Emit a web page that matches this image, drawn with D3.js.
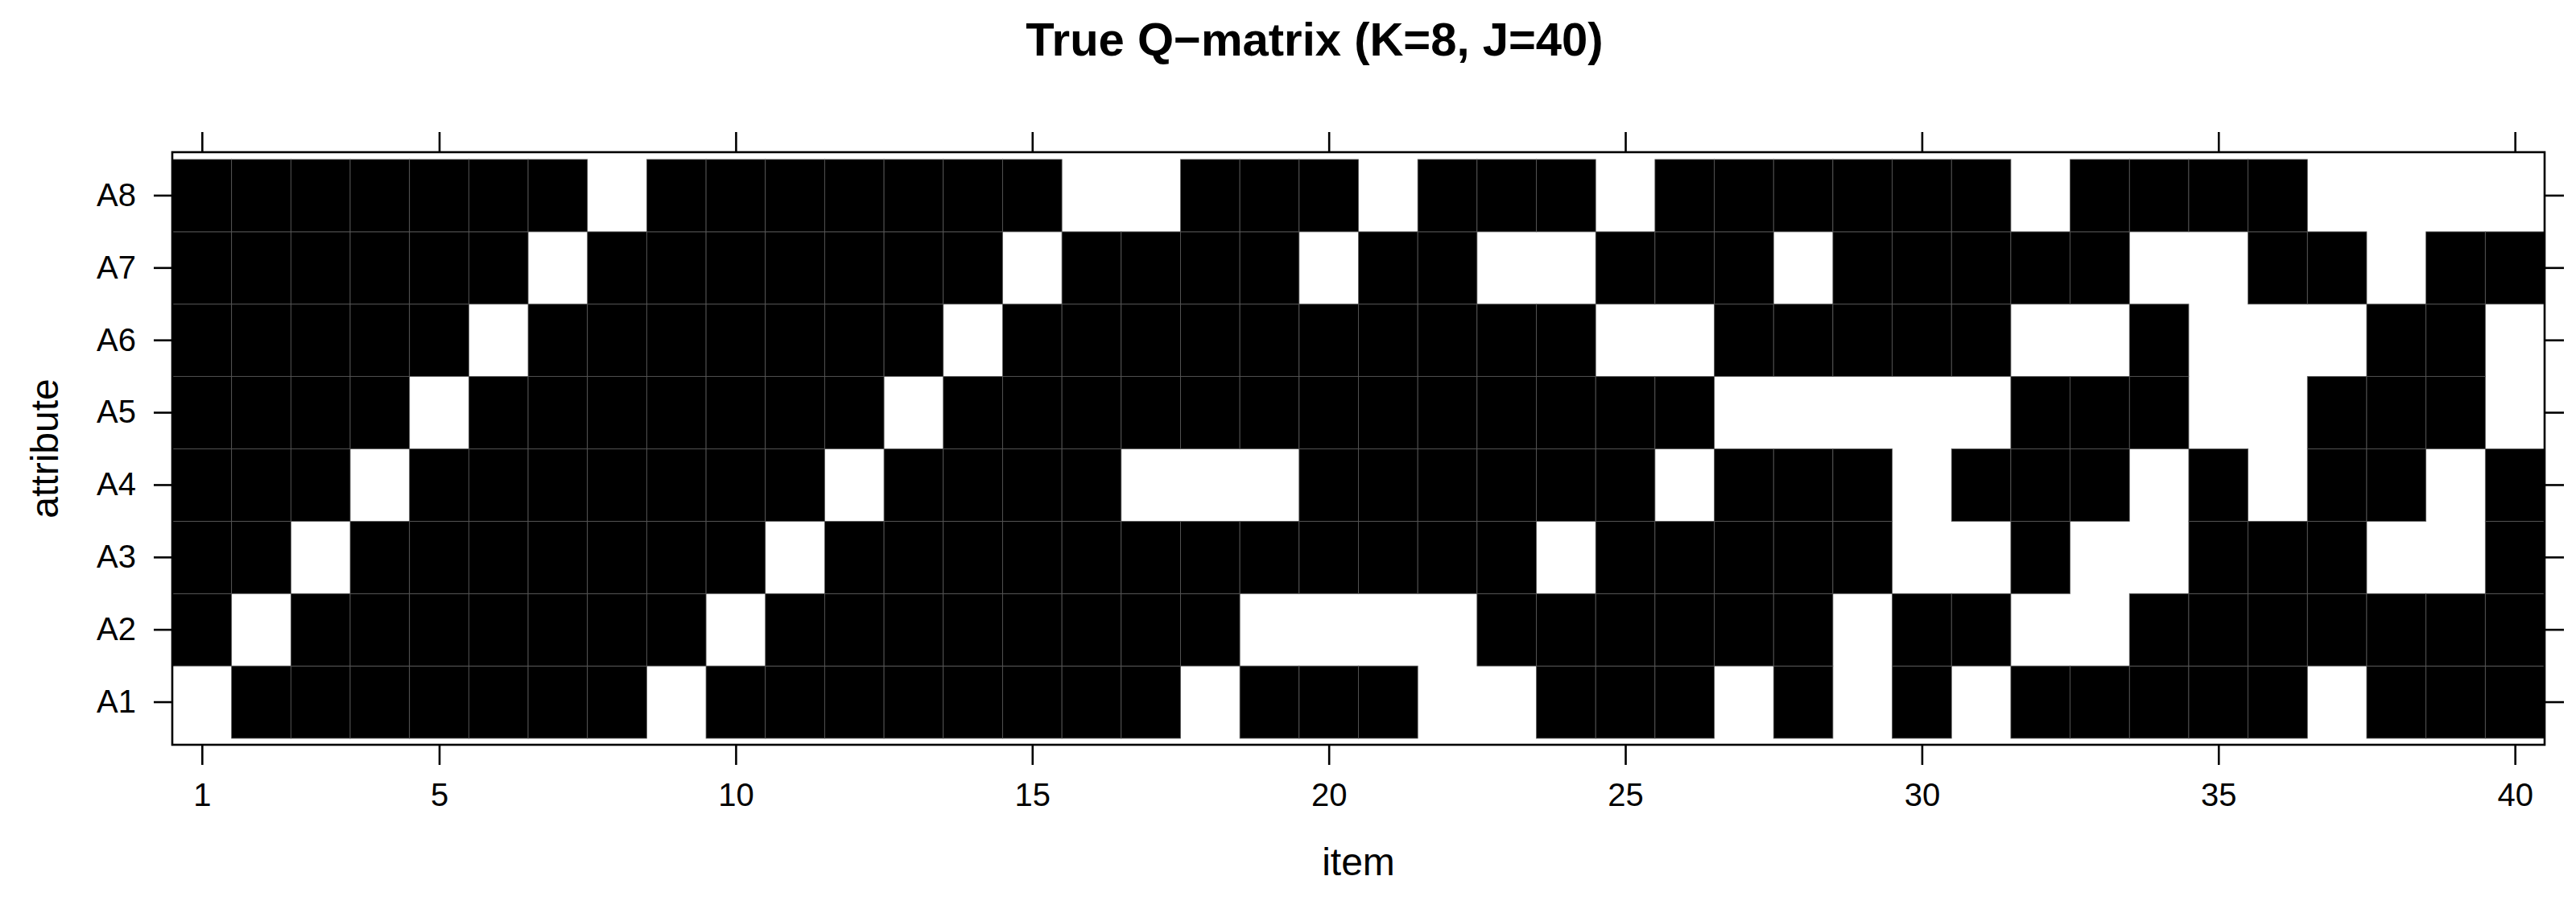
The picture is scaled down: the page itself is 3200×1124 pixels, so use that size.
<!DOCTYPE html>
<html><head><meta charset="utf-8">
<script src="https://cdn.jsdelivr.net/npm/d3@7"></script>
<style>
body{margin:0;background:#fff}
svg{display:block}
text{font-family:"Liberation Sans",Arial,Helvetica,sans-serif}
</style>
</head><body><svg id="c" width="3200" height="1124"></svg>
<script>
// ---- data ----
const items = d3.range(1, 41);
const attributes = ["A1","A2","A3","A4","A5","A6","A7","A8"];
const xTickValues = [1,5,10,15,20,25,30,35,40];
const chartTitle = "True Q\u2212matrix (K=8, J=40)";
const xLabel = "item";
const yLabel = "attribute";
// Q-matrix entries per attribute (1 = attribute required, drawn white)
const qA1 = [1,0,0,0,0,0,0,0, 1,0,0,0,0,0,0,0, 0,1,0,0,0,1,1,0, 0,0,1,0,1,0,1,0, 0,0,0,0,1,0,0,0];
const qA2 = [0,1,0,0,0,0,0,0, 0,1,0,0,0,0,0,0, 0,0,1,1,1,1,0,0, 0,0,0,0,1,0,0,1, 1,0,0,0,0,0,0,0];
const qA3 = [0,0,1,0,0,0,0,0, 0,0,1,0,0,0,0,0, 0,0,0,0,0,0,0,1, 0,0,0,0,0,1,1,0, 1,1,0,0,0,1,1,0];
const qA4 = [0,0,0,1,0,0,0,0, 0,0,0,1,0,0,0,0, 1,1,1,0,0,0,0,0, 0,1,0,0,0,1,0,0, 0,1,0,1,0,0,1,0];
const qA5 = [0,0,0,0,1,0,0,0, 0,0,0,0,1,0,0,0, 0,0,0,0,0,0,0,0, 0,0,1,1,1,1,1,0, 0,0,1,1,0,0,0,1];
const qA6 = [0,0,0,0,0,1,0,0, 0,0,0,0,0,1,0,0, 0,0,0,0,0,0,0,0, 1,1,0,0,0,0,0,1, 1,0,1,1,1,0,0,1];
const qA7 = [0,0,0,0,0,0,1,0, 0,0,0,0,0,0,1,0, 0,0,0,1,0,0,1,1, 0,0,0,1,0,0,0,0, 0,1,1,0,0,1,0,0];
const qA8 = [0,0,0,0,0,0,0,1, 0,0,0,0,0,0,0,1, 1,0,0,0,1,0,0,0, 1,0,0,0,0,0,0,1, 0,0,0,0,1,1,1,1];
const qRows = [qA1,qA2,qA3,qA4,qA5,qA6,qA7,qA8];

const cells = [];
attributes.forEach((a, i) => items.forEach((it, j) => cells.push({attr: a, item: it, v: qRows[i][j]})));

// ---- layout ----
const svg = d3.select("#c");
const frame = {left: 214, right: 3161, top: 189, bottom: 925};
const cellTop = 198, cellBottom = 917;

const x = d3.scaleLinear().domain([0.5, 40.5]).range([frame.left, frame.right]);
const y = d3.scaleBand().domain(attributes).range([cellBottom, cellTop]);
const color = d3.scaleOrdinal().domain([0, 1]).range(["#000000", "#ffffff"]);

// cells: white cells first, then black cells with faint seams
const sorted = cells.slice().sort((a, b) => b.v - a.v);
svg.append("g").selectAll("rect").data(sorted).join("rect")
  .attr("x", d => x(d.item - 0.5))
  .attr("width", d => x(d.item + 0.5) - x(d.item - 0.5))
  .attr("y", d => y(d.attr))
  .attr("height", y.bandwidth())
  .attr("fill", d => color(d.v))
  .attr("stroke", d => d.v ? "none" : "#5a5a5a")
  .attr("stroke-width", 0.8);

// frame
svg.append("rect")
  .attr("x", frame.left).attr("y", frame.top)
  .attr("width", frame.right - frame.left).attr("height", frame.bottom - frame.top)
  .attr("fill", "none").attr("stroke", "#000").attr("stroke-width", 2.6);

function styleAxis(g) {
  g.select(".domain").remove();
  g.selectAll(".tick line").attr("stroke", "#000").attr("stroke-width", 2.6);
  g.selectAll(".tick text").attr("fill", "#000").style("font-size", "40px")
    .style("font-family", '"Liberation Sans", Arial, sans-serif');
}

svg.append("g").attr("transform", `translate(0,${frame.bottom})`)
  .call(d3.axisBottom(x).tickValues(xTickValues).tickSize(25).tickPadding(23))
  .call(styleAxis);
svg.append("g").attr("transform", `translate(0,${frame.top})`)
  .call(d3.axisTop(x).tickValues(xTickValues).tickSize(25).tickFormat(""))
  .call(styleAxis);
svg.append("g").attr("transform", `translate(${frame.left},0)`)
  .call(d3.axisLeft(y).tickSize(23).tickPadding(22))
  .call(styleAxis);
svg.append("g").attr("transform", `translate(${frame.right},0)`)
  .call(d3.axisRight(y).tickSize(24).tickFormat(""))
  .call(styleAxis);

// titles
svg.append("text").attr("x", 1633).attr("y", 69).attr("text-anchor", "middle")
  .style("font-size", "58px").style("font-weight", "bold").text(chartTitle);
svg.append("text").attr("x", (frame.left + frame.right) / 2).attr("y", 1087).attr("text-anchor", "middle")
  .style("font-size", "48px").text(xLabel);
svg.append("text").attr("transform", `translate(72,${(frame.top + frame.bottom) / 2}) rotate(-90)`)
  .attr("text-anchor", "middle").style("font-size", "48px").text(yLabel);
</script>
</body></html>
